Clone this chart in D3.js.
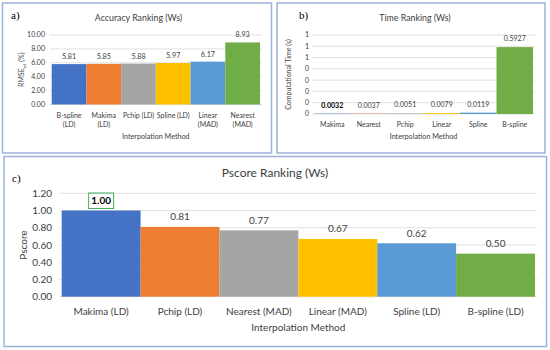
<!DOCTYPE html>
<html>
<head>
<meta charset="utf-8">
<script src="https://cdn.jsdelivr.net/npm/d3@7"></script>
<style>
  html, body { margin: 0; padding: 0; background: #fff; }
  svg { display: block; }
  text { font-family: Lato, "Open Sans", sans-serif; fill: #404040; }
</style>
</head>
<body>
<svg id="chart" width="550" height="350"></svg>
<script>
// ---------- DATA ----------
const palette = ["#4472C4", "#ED7D31", "#A5A5A5", "#FFC000", "#5B9BD5", "#70AD47"];

const accCategories = ["B-spline (LD)", "Makima (LD)", "Pchip (LD)", "Spline (LD)", "Linear (MAD)", "Nearest (MAD)"];
const accLabelLines = [["B-spline", "(LD)"], ["Makima", "(LD)"], ["Pchip (LD)"], ["Spline (LD)"], ["Linear", "(MAD)"], ["Nearest", "(MAD)"]];
const accValues = [5.81, 5.85, 5.88, 5.97, 6.17, 8.93];
const accTicks = [0, 2, 4, 6, 8, 10];
const accTickLabels = ["0.00", "2.00", "4.00", "6.00", "8.00", "10.00"];

const timeCategories = ["Makima", "Nearest", "Pchip", "Linear", "Spline", "B-spline"];
const timeValues = [0.0032, 0.0037, 0.0051, 0.0079, 0.0119, 0.5927];
const timeValueLabels = ["0.0032", "0.0037", "0.0051", "0.0079", "0.0119", "0.5927"];
const timeTicks = [0, 0.1, 0.2, 0.3, 0.4, 0.5, 0.6, 0.7];
const timeTickLabels = ["0", "0", "0", "0", "0", "1", "1", "1"];

const pCategories = ["Makima (LD)", "Pchip (LD)", "Nearest (MAD)", "Linear (MAD)", "Spline (LD)", "B-spline (LD)"];
const pValues = [1.00, 0.81, 0.77, 0.67, 0.62, 0.50];
const pTicks = [0, 0.2, 0.4, 0.6, 0.8, 1.0, 1.2];
const pTickLabels = ["0.00", "0.20", "0.40", "0.60", "0.80", "1.00", "1.20"];

// ---------- DRAW ----------
const svg = d3.select("#chart");
const borderColor = "#9BB3DA";

function panelBox(x0, y0, x1, y1) {
  svg.append("rect").attr("x", x0).attr("y", y0).attr("width", x1 - x0).attr("height", y1 - y0)
    .attr("fill", "#fff").attr("stroke", borderColor).attr("stroke-width", 1.5);
}

function drawPanel(cfg) {
  const g = svg.append("g");
  const x = d3.scaleBand().domain(cfg.categories).range([cfg.left, cfg.right]).paddingInner(0).paddingOuter(0);
  const y = d3.scaleLinear().domain([0, cfg.max]).range([cfg.bottom, cfg.top]);

  g.selectAll(".grid").data(cfg.ticks).join("line")
    .attr("x1", cfg.left - 2).attr("x2", cfg.right + 2)
    .attr("y1", d => y(d)).attr("y2", d => y(d))
    .attr("stroke", "#D9D9D9").attr("stroke-width", 0.8);

  g.selectAll(".tick").data(cfg.ticks).join("text")
    .attr("x", cfg.tickX).attr("y", d => y(d)).attr("dy", "0.35em")
    .attr("text-anchor", "end").attr("font-size", cfg.tickSize)
    .text((d, i) => cfg.tickLabels[i]);

  g.selectAll(".bar").data(cfg.values).join("rect")
    .attr("x", (d, i) => x(cfg.categories[i]))
    .attr("width", x.bandwidth())
    .attr("y", d => y(d))
    .attr("height", d => y(0) - y(d))
    .attr("fill", (d, i) => palette[i]);

  g.selectAll(".val").data(cfg.values).join("text")
    .attr("x", (d, i) => x(cfg.categories[i]) + x.bandwidth() / 2)
    .attr("y", d => y(d) - cfg.valOffset)
    .attr("text-anchor", "middle").attr("font-size", cfg.valSize)
    .attr("font-weight", (d, i) => i === cfg.boldIndex ? "bold" : "normal")
    .style("fill", (d, i) => i === cfg.boldIndex ? "#000" : "#404040")
    .text((d, i) => cfg.valueLabels[i]);

  cfg.labelLines.forEach((lines, i) => {
    const t = g.append("text")
      .attr("x", x(cfg.categories[i]) + x.bandwidth() / 2)
      .attr("y", cfg.catY)
      .attr("text-anchor", "middle").attr("font-size", cfg.catSize);
    lines.forEach((ln, j) => {
      t.append("tspan").attr("x", x(cfg.categories[i]) + x.bandwidth() / 2)
        .attr("dy", j === 0 ? 0 : cfg.catLine).text(ln);
    });
  });

  g.append("text").attr("x", (cfg.left + cfg.right) / 2).attr("y", cfg.xTitleY)
    .attr("text-anchor", "middle").attr("font-size", cfg.xTitleSize).text("Interpolation Method");

  const yt = g.append("text")
    .attr("transform", `translate(${cfg.yTitleX},${(cfg.top + cfg.bottom) / 2}) rotate(-90)`)
    .attr("text-anchor", "middle").attr("font-size", cfg.yTitleSize);
  if (cfg.yTitleSub) {
    yt.append("tspan").text(cfg.yTitle);
    yt.append("tspan").attr("font-size", cfg.yTitleSize * 0.6).attr("dy", 1.5).text(cfg.yTitleSub);
    yt.append("tspan").attr("dy", -1.5).text(cfg.yTitleRest);
  } else {
    yt.text(cfg.yTitle);
  }

  g.append("text").attr("x", cfg.titleX).attr("y", cfg.titleY)
    .attr("text-anchor", "middle").attr("font-size", cfg.titleSize).text(cfg.title);

  g.append("text").attr("x", cfg.letterX).attr("y", cfg.letterY)
    .style("font-family", "'Liberation Serif', 'DejaVu Serif', serif")
    .attr("font-size", cfg.letterSize)
    .style("fill", "#000").text(cfg.letter);

  return { x, y, g };
}

panelBox(2.5, 3, 271.5, 153);
panelBox(277, 3, 545, 153);
panelBox(4, 156.5, 546.5, 346.5);

drawPanel({
  categories: accCategories, values: accValues, labelLines: accLabelLines,
  valueLabels: accValues.map(d => d.toFixed(2)),
  max: 10, ticks: accTicks, tickLabels: accTickLabels,
  left: 51.7, right: 260, top: 35, bottom: 104.5,
  tickX: 45, tickSize: 7, valOffset: 5, valSize: 7.2, boldIndex: -1,
  catY: 118, catLine: 9, catSize: 7,
  xTitleY: 139, xTitleSize: 7.2,
  yTitle: "RMSE", yTitleSub: "rel", yTitleRest: " (%)", yTitleX: 24, yTitleSize: 7,
  title: "Accuracy Ranking (Ws)", titleX: 138.5, titleY: 21, titleSize: 8.8,
  letter: "a)", letterX: 11, letterY: 19, letterSize: 11
});

drawPanel({
  categories: timeCategories, values: timeValues, labelLines: timeCategories.map(d => [d]),
  valueLabels: timeValueLabels,
  max: 0.7, ticks: timeTicks, tickLabels: timeTickLabels,
  left: 314, right: 533, top: 35, bottom: 114,
  tickX: 309, tickSize: 7, valOffset: 6, valSize: 7, boldIndex: 0,
  catY: 127, catLine: 9, catSize: 7,
  xTitleY: 139, xTitleSize: 7.2,
  yTitle: "Computational Time (s)", yTitleX: 291, yTitleSize: 7,
  title: "Time Ranking (Ws)", titleX: 415, titleY: 21, titleSize: 8.8,
  letter: "b)", letterX: 299, letterY: 19, letterSize: 11
});

const pc = drawPanel({
  categories: pCategories, values: pValues, labelLines: pCategories.map(d => [d]),
  valueLabels: pValues.map(d => d.toFixed(2)),
  max: 1.2, ticks: pTicks, tickLabels: pTickLabels,
  left: 61.7, right: 535, top: 193.3, bottom: 296.7,
  tickX: 52, tickSize: 10, valOffset: 6.5, valSize: 10, boldIndex: 0,
  catY: 315, catLine: 12, catSize: 10,
  xTitleY: 331, xTitleSize: 10,
  yTitle: "Pscore", yTitleX: 27, yTitleSize: 10,
  title: "Pscore Ranking (Ws)", titleX: 275, titleY: 177, titleSize: 12,
  letter: "c)", letterX: 12, letterY: 182, letterSize: 11
});

{
  const i = 0;
  const cx = pc.x(pCategories[i]) + pc.x.bandwidth() / 2;
  const ty = pc.y(pValues[i]) - 6.5;
  pc.g.append("rect").attr("x", cx - 12.5).attr("y", ty - 11).attr("width", 25).attr("height", 15.5)
    .attr("fill", "none").attr("stroke", "#3DAE5C").attr("stroke-width", 1);
}
</script>
</body>
</html>
